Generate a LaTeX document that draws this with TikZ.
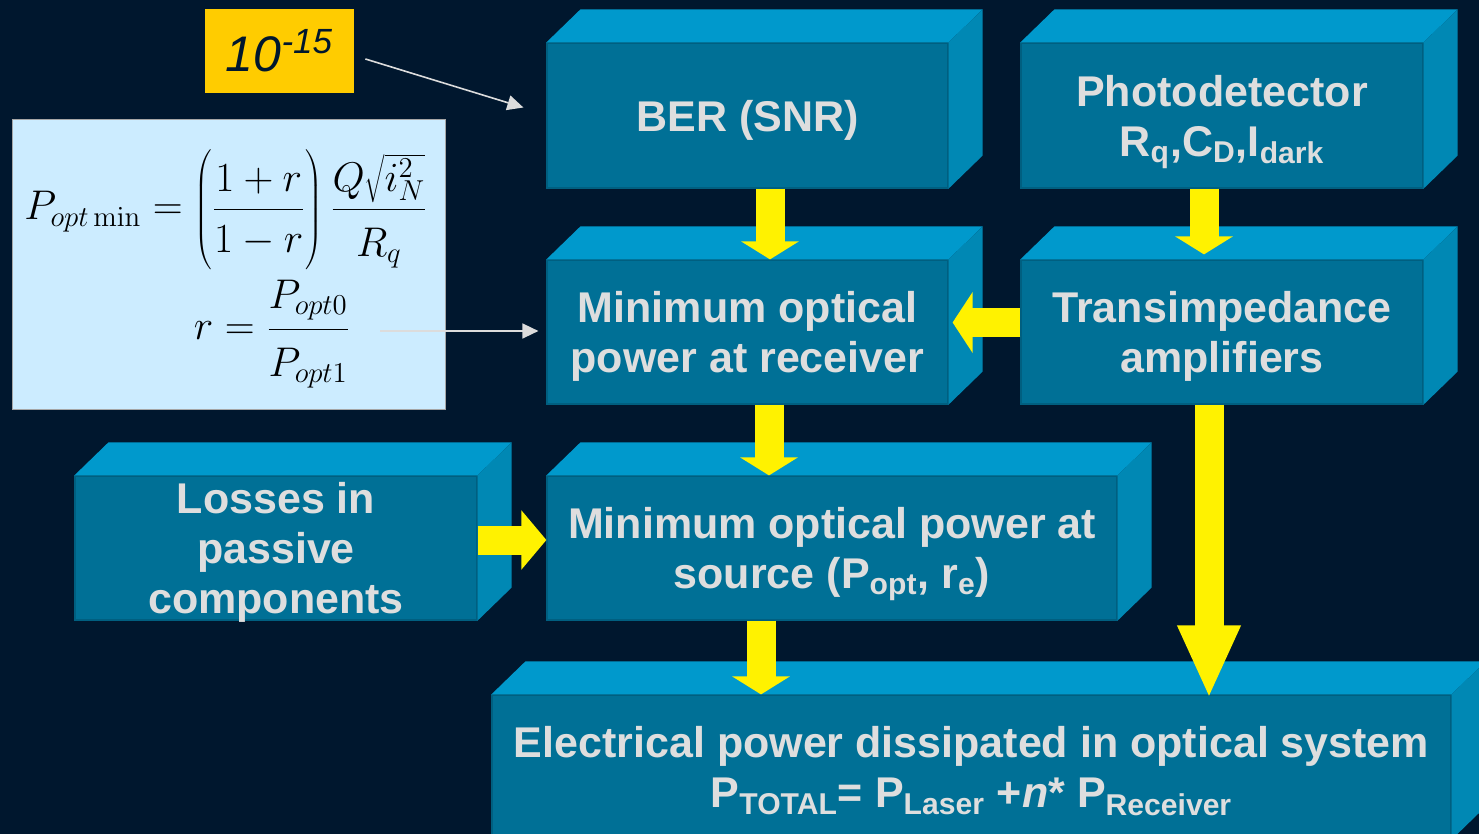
\documentclass[tikz,border=0pt]{standalone}
\usepackage[no-math]{fontspec}
\setmainfont{Liberation Sans}
\usetikzlibrary{arrows.meta}
\definecolor{bg}{RGB}{0,23,46}
\definecolor{facefront}{RGB}{0,112,150}
\definecolor{facetop}{RGB}{0,153,204}
\definecolor{faceside}{RGB}{0,136,180}
\definecolor{boxtext}{RGB}{222,222,222}
\definecolor{gold}{RGB}{255,204,0}
\definecolor{paleblue}{RGB}{204,236,255}
\definecolor{pointergray}{RGB}{220,220,220}
\makeatletter
\newcommand\slab{}
\def\slab#1{%
  \fill[facetop] (#1.north west) -- ++(34,-33) --
    ([shift={(34,-33)}]#1.north east) -- (#1.north east) -- cycle;
  \fill[faceside] (#1.north east) -- ++(34,-33) --
    ([shift={(34,-33)}]#1.south east) -- (#1.south east) -- cycle;
}
\makeatother
\newcommand\lowtext[1]{\textsubscript{#1}}
\newcommand\updepth[1]{\rule[-#1]{0pt}{#1}}
\newcommand\downheight[1]{\rule{0pt}{#1}}

\begin{document}
\begin{tikzpicture}[
  x=0.5pt, y=-0.5pt,
  block/.style={
    fill=facefront,
    draw=facefront!85!black,
    line width=0.6pt,
    text=boxtext,
    font=\fontsize{21.5}{25}\selectfont\bfseries,
    align=center,
    text depth=0pt,
    inner sep=0pt
  },
  fat/.style={
    draw=yellow,
    line width=14.5pt,
    -{Triangle[width=28.5pt,length=9pt]}
  },
  pointer/.style={
    draw=pointergray,
    line width=0.8pt,
    -{Triangle[width=7.5pt,length=8pt]}
  },
  eqn/.style={
    font=\fontsize{21.5}{26}\selectfont,
    inner sep=0pt
  }
]
  \useasboundingbox (0,0) rectangle (1479,834);
  \clip (0,0) rectangle (1479,834);
  \fill[bg] (0,0) rectangle (1479,834);

  \node[fill=gold, minimum width=74.5pt, minimum height=42pt,
    font=\fontsize{25}{30}\selectfont\itshape, text=bg] (ten) at (279.5,51)
    {10\textsuperscript{-15}};

  \node[draw=gray!70, fill=paleblue, minimum width=216.5pt,
    minimum height=145pt] (formula) at (228.5,264) {};
  \node[eqn] (eqmin) at (226,210)
    {$\displaystyle P_{opt\,\mathrm{min}} =\left(\rule[-26pt]{0pt}{62pt}\frac{\updepth{6pt}1+r}{\downheight{20pt}1-r}\right)
      \frac{\updepth{5pt}Q\sqrt{i_N^2}}{\downheight{22pt}R_q}$};
  \node[eqn] (eqr) at (272,334)
    {$\displaystyle r=\frac{\updepth{9pt}P_{opt0}}{\downheight{22pt}P_{opt1}}$};

  \node[block, minimum width=200.5pt, minimum height=72.5pt] (ber) at (747.5,115.5)
    {BER (SNR)};
  \node[block, minimum width=201pt, minimum height=72.5pt] (photo) at (1222,115.5)
    {Photodetector\\R\lowtext{q},C\lowtext{D},I\lowtext{dark}};
  \node[block, minimum width=200.5pt, minimum height=72pt] (minrx) at (747.5,332)
    {Minimum optical\\power at receiver};
  \node[block, minimum width=201pt, minimum height=72pt] (tia) at (1222,332)
    {Transimpedance\\amplifiers};
  \node[block, minimum width=201pt, minimum height=72pt] (loss) at (276,548)
    {Losses in\\passive\\components};
  \node[block, minimum width=285pt, minimum height=72pt] (minsrc) at (832,548)
    {Minimum optical power at\\source (P\lowtext{opt}, r\lowtext{e})};
  \node[block, minimum width=479.5pt, minimum height=72pt] (elec) at (971.5,767)
    {Electrical power dissipated in optical system\\
     P\lowtext{TOTAL}= P\lowtext{Laser} +\textit{n}* P\lowtext{Receiver}};

  \slab{ber}
  \slab{photo}
  \slab{minrx}
  \slab{tia}
  \slab{loss}
  \slab{minsrc}
  \slab{elec}

  \coordinate (dropa) at ([xshift=10.75pt]minrx.south);
  \coordinate (dropb) at ([xshift=-35.5pt]minsrc.south);
  \coordinate (dropc) at ([xshift=-6.5pt]tia.south);
  \coordinate (sidea) at ([yshift=4pt]loss.east);

  \draw[fat] ([xshift=11.25pt]ber.south) -- ([xshift=11.25pt]minrx.north);
  \draw[fat] ([xshift=-9pt]photo.south) -- ([shift={(-18,-5)}]tia.north);
  \draw[fat, -{Triangle[width=30pt,length=10pt]}] ([yshift=4.75pt]tia.west) -- ([shift={(4,-9.5)}]minrx.east);
  \draw[fat] (dropa) -- (dropa |- minsrc.north);
  \draw[fat, -{Triangle[width=29pt,length=12.5pt]}] (sidea) -- (sidea -| minsrc.west);
  \draw[fat] (dropb) -- (dropb |- elec.north);
  \draw[fat, -{Triangle[width=29pt,length=36.5pt]}] (dropc) -- ([yshift=-2pt]dropc |- elec.north);

  \draw[pointer] ([shift={(11,8)}]ten.east) -- ([shift={(-23,-8)}]ber.west);
  \draw[pointer] ([shift={(-65,67)}]formula.east) -- ([shift={(-8,-1)}]minrx.west);
\end{tikzpicture}
\end{document}
